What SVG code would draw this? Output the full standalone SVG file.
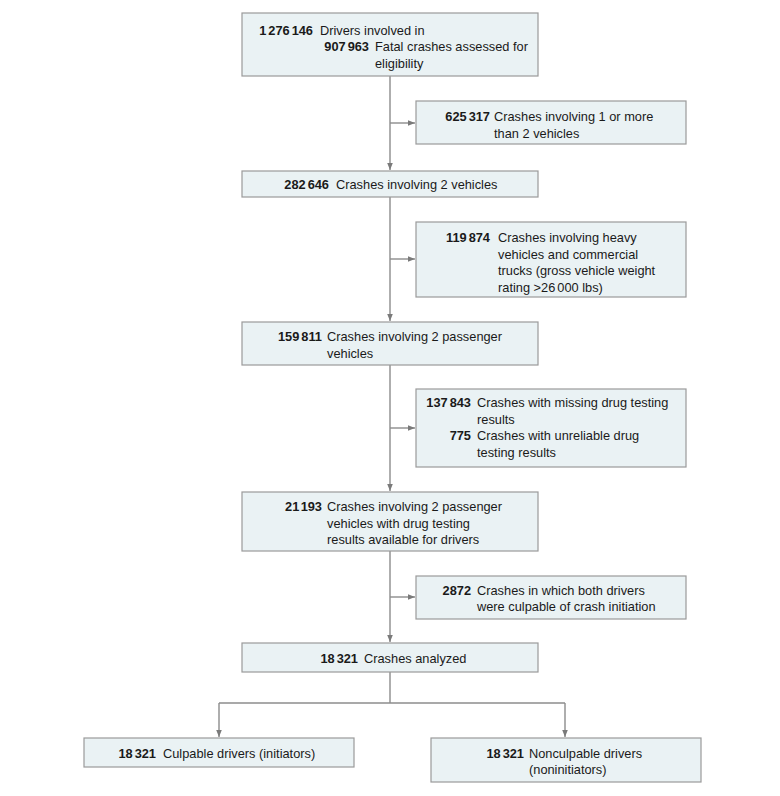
<svg xmlns="http://www.w3.org/2000/svg" width="780" height="796" viewBox="0 0 780 796">
<style>
  .box { fill: #eaf2f4; stroke: #9a9a9a; stroke-width: 1.2; }
  text { font-family: "Liberation Sans", Arial, sans-serif; font-size: 12.8px; fill: #1a1a1a; }
  .n { font-weight: bold; text-anchor: end; }
  .conn { fill: none; stroke: #8c8c8c; stroke-width: 1.4; }
</style>
<defs>
  <marker id="arr" viewBox="0 0 10 10" refX="10" refY="5" markerWidth="7" markerHeight="7" markerUnits="userSpaceOnUse" orient="auto">
    <path d="M0,1 L10,5 L0,9 Z" fill="#7a7a7a"/>
  </marker>
</defs>
<rect width="780" height="796" fill="#ffffff"/>

<g id="connectors">
  <line class="conn" x1="390" y1="76" x2="390" y2="170" marker-end="url(#arr)"/>
  <line class="conn" x1="390" y1="123" x2="415" y2="123" marker-end="url(#arr)"/>
  <line class="conn" x1="390" y1="197" x2="390" y2="321" marker-end="url(#arr)"/>
  <line class="conn" x1="390" y1="259" x2="415" y2="259" marker-end="url(#arr)"/>
  <line class="conn" x1="390" y1="365" x2="390" y2="491" marker-end="url(#arr)"/>
  <line class="conn" x1="390" y1="428" x2="415" y2="428" marker-end="url(#arr)"/>
  <line class="conn" x1="390" y1="551" x2="390" y2="642" marker-end="url(#arr)"/>
  <line class="conn" x1="390" y1="597" x2="415" y2="597" marker-end="url(#arr)"/>
  <line class="conn" x1="390" y1="672" x2="390" y2="703"/>
  <line class="conn" x1="219" y1="703" x2="565" y2="703"/>
  <line class="conn" x1="219" y1="703" x2="219" y2="737" marker-end="url(#arr)"/>
  <line class="conn" x1="565" y1="703" x2="565" y2="737" marker-end="url(#arr)"/>
</g>

<g id="n1">
  <rect class="box" x="242" y="13" width="296" height="63"/>
  <text x="313" y="34.5" class="n">1<tspan dx="2">276</tspan><tspan dx="2">146</tspan></text>
  <text x="320" y="34.5">Drivers involved in</text>
  <text x="369" y="51" class="n">907<tspan dx="2">963</tspan></text>
  <text x="375" y="51">Fatal crashes assessed for</text>
  <text x="375" y="67.5">eligibility</text>
</g>

<g id="e1">
  <rect class="box" x="416" y="101" width="270" height="43"/>
  <text x="490" y="121" class="n">625<tspan dx="2">317</tspan></text>
  <text x="494" y="121">Crashes involving 1 or more</text>
  <text x="494" y="137.5">than 2 vehicles</text>
</g>

<g id="n2">
  <rect class="box" x="242" y="171" width="296" height="26"/>
  <text x="329" y="189" class="n">282<tspan dx="2">646</tspan></text>
  <text x="336" y="189">Crashes involving 2 vehicles</text>
</g>

<g id="e2">
  <rect class="box" x="416" y="222" width="270" height="75"/>
  <text x="490" y="242" class="n">119<tspan dx="2">874</tspan></text>
  <text x="498" y="242">Crashes involving heavy</text>
  <text x="498" y="258.5">vehicles and commercial</text>
  <text x="498" y="275">trucks (gross vehicle weight</text>
  <text x="498" y="291.5">rating &gt;26<tspan dx="2">000 lbs)</tspan></text>
</g>

<g id="n3">
  <rect class="box" x="242" y="322" width="296" height="43"/>
  <text x="322" y="341" class="n">159<tspan dx="2">811</tspan></text>
  <text x="327" y="341">Crashes involving 2 passenger</text>
  <text x="327" y="357.5">vehicles</text>
</g>

<g id="e3">
  <rect class="box" x="416" y="389" width="270" height="78"/>
  <text x="471" y="407" class="n">137<tspan dx="2">843</tspan></text>
  <text x="477" y="407">Crashes with missing drug testing</text>
  <text x="477" y="423.5">results</text>
  <text x="471" y="440" class="n">775</text>
  <text x="477" y="440">Crashes with unreliable drug</text>
  <text x="477" y="456.5">testing results</text>
</g>

<g id="n4">
  <rect class="box" x="242" y="492" width="296" height="59"/>
  <text x="322" y="511" class="n">21<tspan dx="2">193</tspan></text>
  <text x="327" y="511">Crashes involving 2 passenger</text>
  <text x="327" y="527.5">vehicles with drug testing</text>
  <text x="327" y="544">results available for drivers</text>
</g>

<g id="e4">
  <rect class="box" x="416" y="576" width="270" height="43"/>
  <text x="471" y="594.5" class="n">2872</text>
  <text x="477" y="594.5">Crashes in which both drivers</text>
  <text x="477" y="611">were culpable of crash initiation</text>
</g>

<g id="n5">
  <rect class="box" x="242" y="643" width="296" height="29"/>
  <text x="358" y="662.5" class="n">18<tspan dx="2">321</tspan></text>
  <text x="364" y="662.5">Crashes analyzed</text>
</g>

<g id="n6">
  <rect class="box" x="84" y="738" width="270" height="29"/>
  <text x="156" y="757.5" class="n">18<tspan dx="2">321</tspan></text>
  <text x="163" y="757.5">Culpable drivers (initiators)</text>
</g>

<g id="n7">
  <rect class="box" x="431" y="738" width="270" height="44"/>
  <text x="524" y="757.5" class="n">18<tspan dx="2">321</tspan></text>
  <text x="529" y="757.5">Nonculpable drivers</text>
  <text x="529" y="774">(noninitiators)</text>
</g>
</svg>
